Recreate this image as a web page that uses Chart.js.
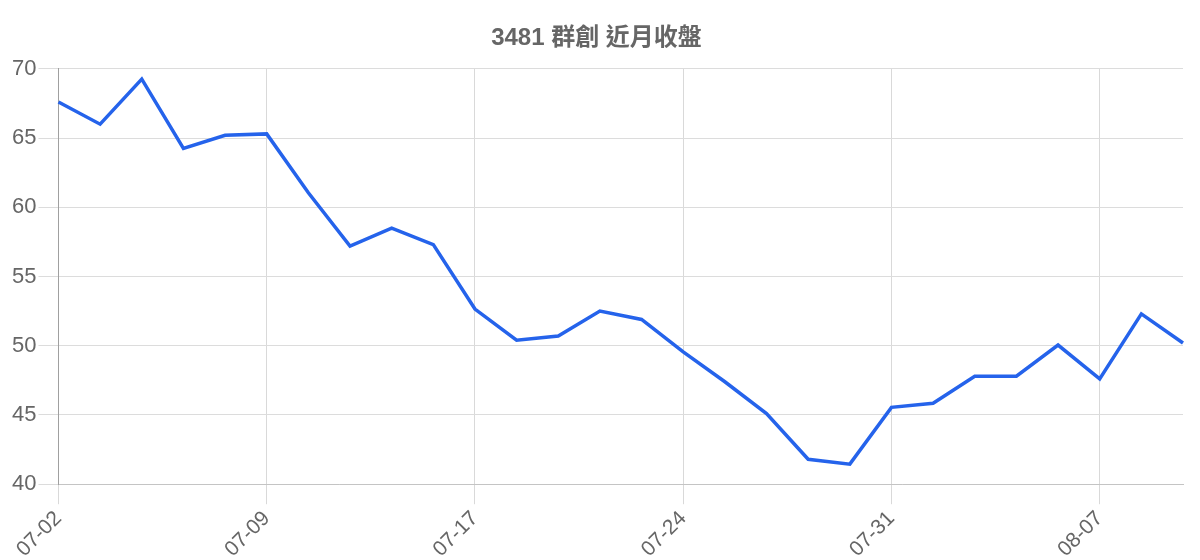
<!DOCTYPE html>
<html>
<head>
<meta charset="utf-8">
<script src="https://cdn.jsdelivr.net/npm/chart.js@4.4.1/dist/chart.umd.min.js"></script>
<style>
  html, body { margin: 0; padding: 0; background: #fff; }
  #wrap { width: 1200px; height: 560px; position: relative; }
</style>
</head>
<body>
<div id="wrap"><canvas id="closeChart"></canvas></div>
<script>
// trading days, 07-02 .. 08-09
var dates = [
  "07-02", "07-03", "07-04", "07-05", "07-08",
  "07-09", "07-10", "07-11", "07-12", "07-15",
  "07-17", "07-18", "07-19", "07-22", "07-23",
  "07-24", "07-25", "07-26", "07-29", "07-30",
  "07-31", "08-01", "08-02", "08-05", "08-06",
  "08-07", "08-08", "08-09"
];
var closes = [
  67.6, 66.0, 69.25, 64.25, 65.2,
  65.3, 61.05, 57.2, 58.5, 57.3,
  52.65, 50.4, 50.7, 52.5, 51.9,
  49.55, 47.4, 45.1, 41.8, 41.45,
  45.55, 45.85, 47.8, 47.8, 50.05,
  47.6, 52.3, 50.2
];
var yMin = 40;
var yMax = 70;
var yStep = 5;

Chart.defaults.font.family = "'Liberation Sans', Arial, 'Noto Sans CJK TC', sans-serif";
Chart.defaults.color = "#666";

var canvas = document.getElementById('closeChart');
var data = {
  labels: dates,
  datasets: [
    {
      label: "收盤",
      data: closes,
      fill: false,
      tension: 0,
      borderColor: "#2563eb",
      backgroundColor: "#2563eb",
      borderWidth: 3.5,
      pointRadius: 0,
      pointHoverRadius: 0
    }
  ]
};

var option = {
  responsive: true,
  maintainAspectRatio: false,
  devicePixelRatio: 1,
  animation: false,
  layout: {
    padding: { left: 10, right: 17, top: 0, bottom: 0 }
  },
  plugins: {
    legend: { display: false },
    tooltip: { enabled: false },
    title: {
      display: true,
      text: "3481 群創 近月收盤",
      color: "#666",
      font: { size: 24, weight: "bold", family: "'Liberation Sans', Arial, 'Noto Sans CJK TC', sans-serif" },
      padding: { top: 24, bottom: 16 }
    }
  },
  scales: {
    x: {
      grid: { color: "#d9d9d9", tickLength: 20 },
      border: { color: "#c4c4c4" },
      ticks: {
        font: { size: 21 },
        color: "#666",
        maxRotation: 45,
        minRotation: 45,
        autoSkip: true,
        maxTicksLimit: 6,
        padding: 2
      },
      afterFit: function(scale) {
        // pull the plot bottom down a little, as in the original
        scale.height -= 4;
      }
    },
    y: {
      min: yMin,
      max: yMax,
      grid: { color: "#dcdcdc", tickLength: 20 },
      border: { color: "#a0a0a0" },
      ticks: {
        stepSize: yStep,
        font: { size: 22 },
        color: "#666",
        padding: 2
      }
    }
  }
};

var myLineChart = new Chart(canvas, {
  type: "line",
  data: data,
  options: option
});
</script>
</body>
</html>
